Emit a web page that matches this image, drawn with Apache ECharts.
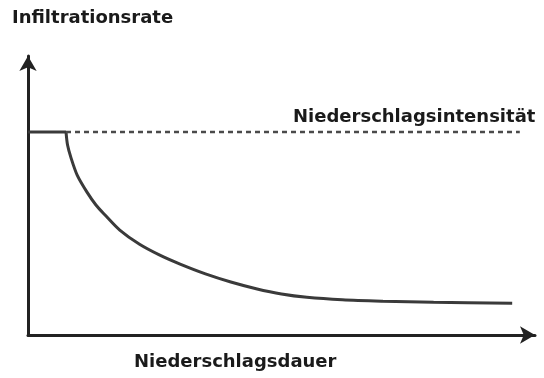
<!DOCTYPE html>
<html>
<head>
<meta charset="utf-8">
<script src="https://cdn.jsdelivr.net/npm/echarts@6/dist/echarts.min.js"></script>
<style>html,body{margin:0;padding:0;background:#fff}#c{width:544px;height:378px}</style>
</head>
<body>
<div id="c"></div>
<script>
const yTitle = "Infiltrationsrate";
const xTitle = "Niederschlagsdauer";
const intensityLabel = "Niederschlagsintensität";
const intensity = 72.8;
const plateauX = [0, 7.5];
const curveX = [7.5, 7.8, 8.5, 9.7, 11.6, 13.4, 15.2, 18.1, 22, 26, 30, 35, 40, 45, 50, 55, 62, 70, 80, 95.5];
const curveY = [72.8, 68.1, 63.4, 57.3, 51.3, 46.6, 43.0, 37.6, 32.5, 28.6, 25.4, 21.9, 19.0, 16.6, 14.7, 13.5, 12.6, 12.1, 11.7, 11.4];
const dashedX = [7.5, 97.0];

const chart = echarts.init(document.getElementById('c'), null, {renderer: 'canvas'});
const axisCommon = {
  type: 'value', min: 0, max: 100,
  axisTick: {show: false}, axisLabel: {show: false}, splitLine: {show: false},
  axisLine: {show: true, symbol: ['none', 'arrow'], symbolSize: [13, 15], lineStyle: {color: '#222', width: 3}}
};
const txt = {fontFamily: 'DejaVu Sans', fontWeight: 'bold', fill: '#1a1a1a', fontSize: 18};
chart.setOption({
  animation: false,
  grid: {left: 28, top: 56, width: 507, height: 279},
  xAxis: Object.assign({}, axisCommon),
  yAxis: Object.assign({}, axisCommon),
  graphic: [
    {type: 'text', left: 12, top: 9, style: Object.assign({text: yTitle}, txt)},
    {type: 'text', left: 134, top: 353, style: Object.assign({text: xTitle}, txt)},
    {type: 'text', left: 293, top: 108, style: Object.assign({text: intensityLabel}, txt)}
  ],
  series: [
    {type: 'line', data: plateauX.map(x => [x, intensity]), symbol: 'none', lineStyle: {color: '#3a3a3a', width: 3}},
    {type: 'line', data: curveX.map((x, i) => [x, curveY[i]]), smooth: 0.3, symbol: 'none', lineStyle: {color: '#3a3a3a', width: 3}},
    {type: 'line', data: dashedX.map(x => [x, intensity]), symbol: 'none', lineStyle: {color: '#4a4a4a', width: 2.5, type: [5, 4]}}
  ]
});
</script>
</body>
</html>
